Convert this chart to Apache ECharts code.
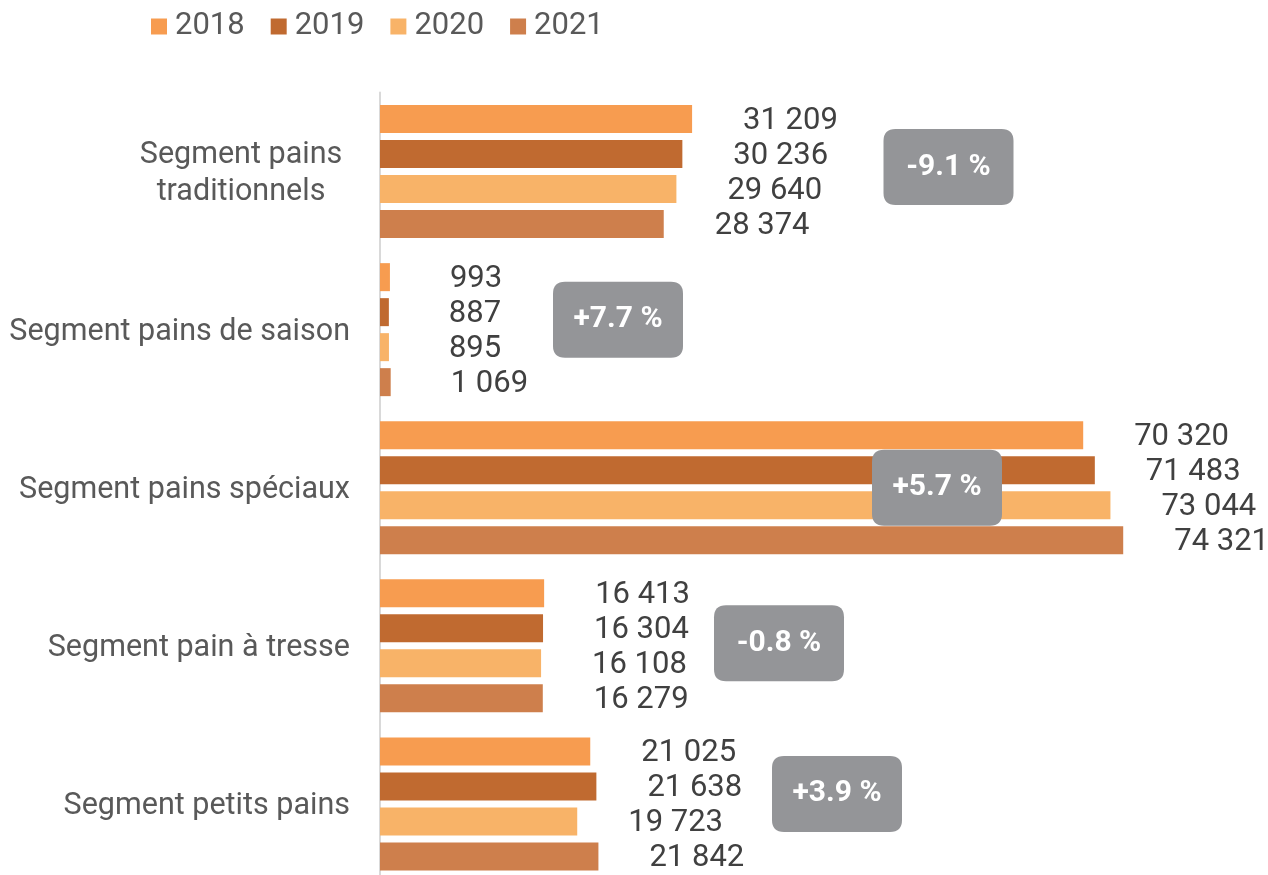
<!DOCTYPE html>
<html>
<head>
<meta charset="utf-8">
<script src="https://cdn.jsdelivr.net/npm/echarts@6/dist/echarts.min.js"></script>
<style>
html,body{margin:0;padding:0;background:#fff;}
#chart{width:1268px;height:875px;}
</style>
</head>
<body>
<div id="chart"></div>
<script>
const categories = ['Segment pains\ntraditionnels', 'Segment pains de saison', 'Segment pains spéciaux', 'Segment pain à tresse', 'Segment petits pains'];
const years = ['2018', '2019', '2020', '2021'];
const values2018 = [31209, 993, 70320, 16413, 21025];
const values2019 = [30236, 887, 71483, 16304, 21638];
const values2020 = [29640, 895, 73044, 16108, 19723];
const values2021 = [28374, 1069, 74321, 16279, 21842];
const changeLabels = ['-9.1 %', '+7.7 %', '+5.7 %', '-0.8 %', '+3.9 %'];
const changeBadgeX = [56850, 23800, 55700, 39900, 45700];

const colors = ['#F79C50', '#C06A30', '#F8B368', '#CE7F4C'];
const seriesValues = [values2018, values2019, values2020, values2021];
const badgeOffsetY = [-4.5, -10, 0, -2.5, -10];
const labelDistance = [51, 60, 51, 51, 51];

function fmt(v) {
  return String(v).replace(/\B(?=(\d{3})+(?!\d))/g, ' ');
}

const badgePath = 'path://M12,0 H118 Q130,0 130,12 V64 Q130,76 118,76 H12 Q0,76 0,64 V12 Q0,0 12,0 Z';

const chart = echarts.init(document.getElementById('chart'));
const barSeries = years.map((y, i) => ({
  name: y,
  type: 'bar',
  data: seriesValues[i].map((v, j) => ({ value: v, label: { distance: labelDistance[j] } })),
  barWidth: 28,
  barGap: '25%',
  itemStyle: { color: colors[i] },
  label: {
    show: true,
    position: 'right',
    distance: 51,
    offset: [0, 2],
    fontFamily: 'Roboto',
    fontSize: 31,
    color: '#404040',
    formatter: p => fmt(p.value)
  },
  emphasis: { disabled: true }
}));

const badgeSeries = {
  type: 'scatter',
  z: 5,
  symbol: badgePath,
  symbolKeepAspect: false,
  symbolSize: [130, 76],
  itemStyle: { color: '#949598', opacity: 1 },
  label: {
    show: true,
    position: 'inside',
    fontFamily: 'Roboto',
    fontWeight: 'bold',
    fontSize: 30,
    color: '#ffffff',
    formatter: p => changeLabels[p.dataIndex]
  },
  data: changeBadgeX.map((x, i) => ({ value: [x, i], symbolOffset: [0, badgeOffsetY[i]] })),
  emphasis: { disabled: true },
  silent: true
};

chart.setOption({
  animation: false,
  textStyle: { fontFamily: 'Roboto' },
  legend: {
    data: years,
    left: 146,
    top: 6,
    icon: 'rect',
    itemWidth: 16,
    itemHeight: 16,
    itemGap: 26,
    textStyle: { fontFamily: 'Roboto', fontSize: 31, color: '#595959', padding: [0, 0, 0, 3] }
  },
  grid: { left: 380, width: 880, top: 92.5, height: 790.5, containLabel: false, outerBoundsMode: 'none' },
  xAxis: {
    type: 'value',
    min: 0,
    max: 88000,
    show: false
  },
  yAxis: {
    type: 'category',
    data: categories,
    inverse: true,
    axisLine: { show: true, lineStyle: { color: '#d9d9d9', width: 2 } },
    axisTick: { show: false },
    axisLabel: {
      margin: 30,
      padding: [5, 0, 0, 0],
      fontFamily: 'Roboto',
      fontSize: 30.5,
      color: '#595959',
      formatter: v => v.indexOf('\n') >= 0 ? v.split('\n').map(s => '{c|' + s + '}').join('\n') : v,
      rich: { c: { width: 218, align: 'center', fontFamily: 'Roboto', fontSize: 30.5, color: '#595959', lineHeight: 37 } }
    }
  },
  series: [...barSeries, badgeSeries]
});
</script>
</body>
</html>
